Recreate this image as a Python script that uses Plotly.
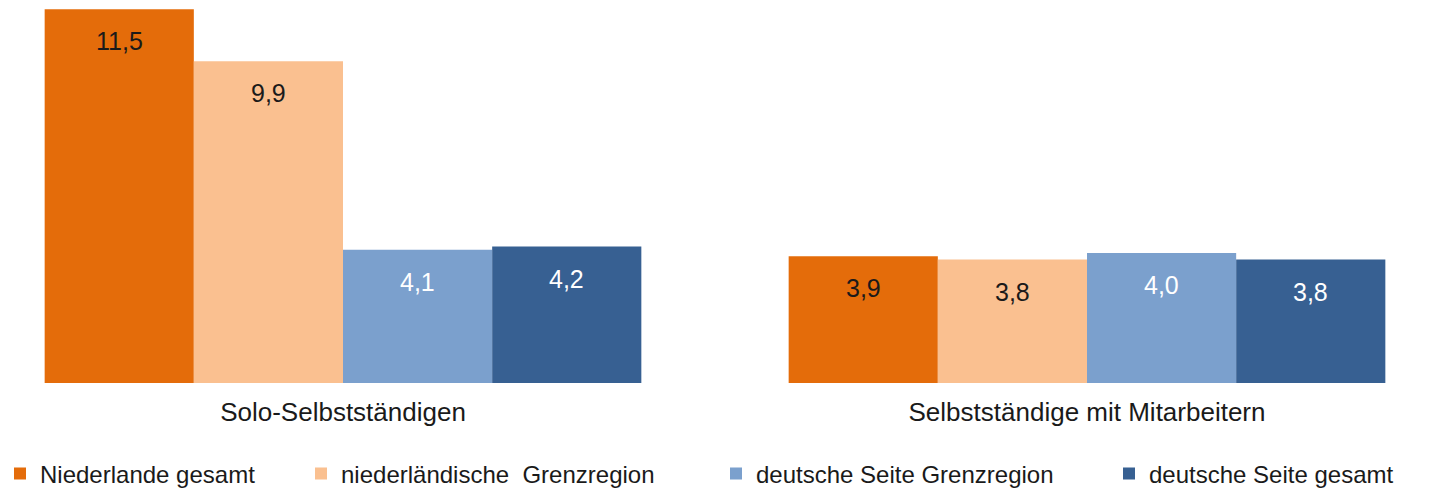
import plotly.graph_objects as go

# Daten
kategorien = ['Solo-Selbstständigen', 'Selbstständige mit Mitarbeitern']
serien = ['Niederlande gesamt', 'niederländische  Grenzregion',
          'deutsche Seite Grenzregion', 'deutsche Seite gesamt']
werte_nl_gesamt = [11.5, 3.9]
werte_nl_grenz = [9.9, 3.8]
werte_de_grenz = [4.1, 4.0]
werte_de_gesamt = [4.2, 3.8]

farben = ['#E46C0A', '#FAC090', '#7BA0CD', '#376092']
textfarben = ['#1a1a1a', '#1a1a1a', '#ffffff', '#ffffff']
alle_werte = [werte_nl_gesamt, werte_nl_grenz, werte_de_grenz, werte_de_gesamt]

# Die Seite hat 8px Rand, daher ist die Figur 8px kleiner als das Fenster
OFF = 8
W, H = 1453 - OFF, 490 - OFF
plot_h = 383 - OFF
bargap = 0.198
x_range = [-(343 - OFF) / 744, -(343 - OFF) / 744 + W / 744]
legend_left = [0, 301, 716, 1109]  # linke Kante der Legendeneinträge (Fenster-px)
legend_names = ['legend', 'legend2', 'legend3', 'legend4']
schrift = 'Liberation Sans, Arial, sans-serif'

fig = go.Figure()

for i, (name, werte) in enumerate(zip(serien, alle_werte)):
    fig.add_trace(go.Bar(
        x=kategorien,
        y=werte,
        name=name,
        marker=dict(color=farben[i], line=dict(width=0)),
        legend=legend_names[i],
        hoverinfo='skip'
    ))

# Wertebeschriftungen innerhalb der Balken
bw = (1 - bargap) / 4
for i, werte in enumerate(alle_werte):
    for ci, v in enumerate(werte):
        fig.add_annotation(
            x=ci + (i - 1.5) * bw,
            y=v,
            text=f'{v:.1f}'.replace('.', ','),
            showarrow=False,
            yanchor='middle',
            yshift=-32,
            font=dict(size=25, color=textfarben[i], family=schrift)
        )

legend_layout = {}
for i, ln in enumerate(legend_names):
    legend_layout[ln] = dict(
        x=(legend_left[i] - OFF) / W,
        xanchor='left',
        y=(plot_h - (474 - OFF)) / plot_h,
        yanchor='middle',
        orientation='h',
        bgcolor='rgba(0,0,0,0)',
        font=dict(size=24, color='#1a1a1a', family=schrift),
        itemclick=False,
        itemdoubleclick=False
    )

fig.update_layout(
    width=W,
    height=H,
    margin=dict(l=0, r=0, t=0, b=H - plot_h, autoexpand=False),
    paper_bgcolor='white',
    plot_bgcolor='white',
    barmode='group',
    bargap=bargap,
    bargroupgap=0,
    xaxis=dict(
        range=x_range,
        showgrid=False,
        showline=False,
        zeroline=False,
        ticks='',
        tickfont=dict(size=26, color='#1a1a1a', family=schrift),
        ticklabelstandoff=11
    ),
    yaxis=dict(
        range=[0, plot_h / 32.5],
        visible=False,
        showgrid=False,
        zeroline=False
    ),
    showlegend=True,
    **legend_layout
)

fig.write_html('out.html')
